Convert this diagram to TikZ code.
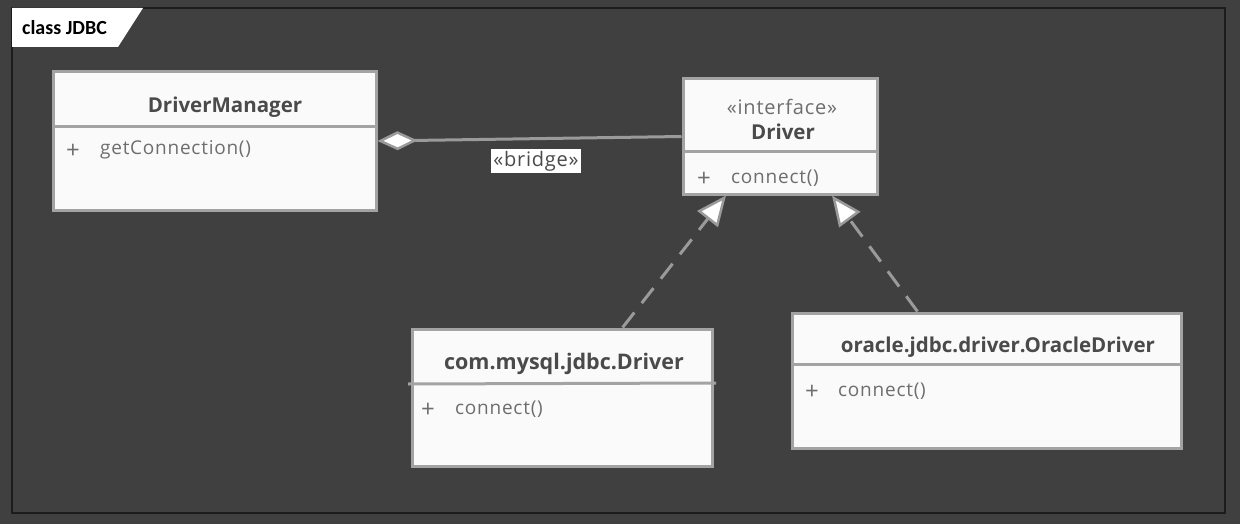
\documentclass[tikz,border=0pt]{standalone}
\usepackage{fontspec}
\setmainfont{Open Sans}
\newfontfamily\tabfont{Carlito}
\newfontfamily\memfont[LetterSpace=4]{Open Sans}
\usetikzlibrary{arrows.meta,calc}
\definecolor{bgc}{HTML}{404040}
\definecolor{framec}{HTML}{1C1C1C}
\definecolor{boxfill}{HTML}{FAFAFA}
\definecolor{boxline}{HTML}{A3A3A3}
\definecolor{linec}{HTML}{9A9A9A}
\definecolor{titlec}{HTML}{4A4A4A}
\definecolor{memc}{HTML}{6E6E6E}
\tikzset{
  classbox/.style={draw=boxline, fill=boxfill, line width=3pt, inner sep=0pt},
  divider/.style={draw=boxline, line width=3pt},
  titletext/.style={text=titlec, font=\fontsize{20.5}{24}\selectfont\bfseries, inner sep=0pt},
  stereo/.style={text=memc, font=\memfont\fontsize{20}{24}\selectfont, inner sep=0pt},
  memtext/.style={text=memc, font=\memfont\fontsize{19}{22}\selectfont, inner sep=0pt, anchor=west},
  plustext/.style={text=memc, font=\fontsize{24}{26}\selectfont, inner sep=0pt},
  realize/.style={draw=linec, line width=3pt, dash pattern=on 19pt off 12pt,
    -{Triangle[length=30pt,width=26pt,fill=white,line width=2.5pt]}},
  aggr/.style={draw=linec, line width=3pt, -{Diamond[length=40pt,width=19pt,fill=white,line width=2.5pt]}},
}
\begin{document}
\begin{tikzpicture}[x=1pt,y=-1pt]
\useasboundingbox (0,0) rectangle (1240,524);
\fill[bgc] (0,0) rectangle (1240,524);
\draw[framec, line width=1.2pt] (12,8) rectangle (1225,513);
\fill[white] (12,8) -- (143,8) -- (118,47) -- (12,47) -- cycle;
\node[anchor=west, inner sep=0pt, font=\tabfont\fontsize{20}{22}\selectfont\bfseries, text=black] (tab) at (22,28) {class JDBC};

% DriverManager
\node[classbox, minimum width=323pt, minimum height=138pt] (dm) at (214.5,141) {};
\node[titletext] (dmt) at (225,107) {DriverManager};
\draw[divider] (dm.west |- 0,127) -- (dm.east |- 0,127);
\node[plustext] (dmp) at (73,151) {+};
\node[memtext] (dmm) at (100,150) {getConnection()};

% Driver
\node[classbox, minimum width=194pt, minimum height=115pt] (drv) at (780,136.5) {};
\node[stereo] (drvs) at (782,107) {«interface»};
\node[titletext] (drvt) at (783,132) {Driver};
\draw[divider] (drv.west |- 0,152) -- (drv.east |- 0,152);
\node[plustext] (drvp) at (704,179) {+};
\node[memtext] (drvm) at (731,178) {connect()};

% mysql
\node[classbox, minimum width=300pt, minimum height=137pt] (my) at (562,397.5) {};
\node[titletext, font=\fontsize{21.5}{24}\selectfont\bfseries] (myt) at (564,364) {com.mysql.jdbc.Driver};
\draw[divider] (408,384) -- (716,383);
\node[plustext] (myp) at (428,410) {+};
\node[memtext] (mym) at (455,409) {connect()};

% oracle
\node[classbox, minimum width=389pt, minimum height=135pt] (ora) at (986.5,380.5) {};
\node[titletext] (orat) at (998,347) {oracle.jdbc.driver.OracleDriver};
\draw[divider] (ora.west |- 0,364) -- (ora.east |- 0,364);
\node[plustext] (orap) at (812,392) {+};
\node[memtext] (oram) at (838,391) {connect()};

% connectors
\draw[aggr] (drv.west) -- (dm.east);
\node[fill=white, text=titlec, font=\memfont\fontsize{20}{24}\selectfont, inner sep=2pt] (br) at (536,161) {«bridge»};
\draw[realize] ($(my.north west)!0.7!(my.north east)$) -- ($(drv.south west)!0.226!(drv.south east)$);
\draw[realize] ($(ora.north west)!0.324!(ora.north east)$) -- ($(drv.south west)!0.764!(drv.south east)$);
\end{tikzpicture}
\end{document}
